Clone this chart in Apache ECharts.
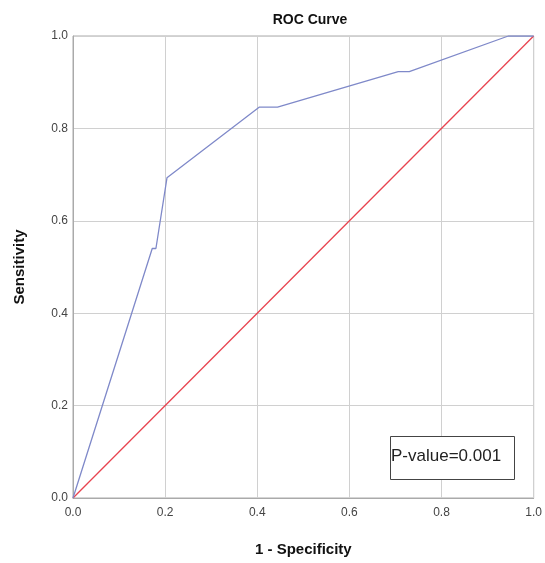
<!DOCTYPE html>
<html><head><meta charset="utf-8">
<script src="https://cdn.jsdelivr.net/npm/echarts@6/dist/echarts.min.js"></script>
<style>html,body{margin:0;padding:0;background:#fff}#c{width:545px;height:563px}</style>
</head><body><div id="c"></div>
<script>
const rocX = [0, 0.172, 0.180, 0.204, 0.404, 0.444, 0.706, 0.730, 0.945, 1.0];
const rocY = [0, 0.540, 0.540, 0.693, 0.846, 0.846, 0.923, 0.923, 1.0, 1.0];
const refX = [0, 1];
const refY = [0, 1];
const tickVals = [0, 0.2, 0.4, 0.6, 0.8, 1.0];
const pText = 'P-value=0.001';

const chart = echarts.init(document.getElementById('c'));
const axisCommon = {
  type: 'value', min: 0, max: 1, interval: 0.2,
  axisLine: {show: true, lineStyle: {color: '#aaa', width: 1}},
  axisTick: {show: false},
  splitLine: {show: true, lineStyle: {color: '#d0d0d0', width: 1}},
  axisLabel: {color: '#444', fontSize: 12, fontFamily: 'Arial, Liberation Sans', formatter: v => v.toFixed(1)},
  nameTextStyle: {color: '#111', fontSize: 15, fontWeight: 'bold', fontFamily: 'Arial, Liberation Sans'}
};
chart.setOption({
  animation: false,
  title: {text: 'ROC Curve', left: 305, top: 8, textAlign: 'center',
    textStyle: {fontSize: 14, fontWeight: 'bold', color: '#111', fontFamily: 'Arial, Liberation Sans'}},
  grid: {left: 73, right: 6, top: 36, bottom: 65, show: true, borderColor: '#aaa', borderWidth: 1},
  xAxis: Object.assign({}, axisCommon, {name: '1 - Specificity', nameLocation: 'middle', nameGap: 44,
    axisLabel: Object.assign({}, axisCommon.axisLabel, {margin: 9})}),
  yAxis: Object.assign({}, axisCommon, {name: 'Sensitivity', nameLocation: 'middle', nameGap: 46,
    axisLabel: Object.assign({}, axisCommon.axisLabel, {margin: 5})}),
  series: [
    {type: 'line', data: refX.map((x, i) => [x, refY[i]]), symbol: 'none',
      lineStyle: {color: '#e8434f', width: 1.3}, z: 2},
    {type: 'line', data: rocX.map((x, i) => [x, rocY[i]]), symbol: 'none',
      lineStyle: {color: '#7f89c9', width: 1.3}, z: 3}
  ],
  graphic: [{
    type: 'rect', left: 390, top: 436, shape: {width: 124, height: 43},
    style: {fill: '#fff', stroke: '#444', lineWidth: 1}, z: 10
  }, {
    type: 'text', left: 391, top: 448, z: 11,
    style: {text: pText, fontSize: 17, fill: '#222', fontFamily: 'Arial, Liberation Sans'}
  }]
});
</script></body></html>
